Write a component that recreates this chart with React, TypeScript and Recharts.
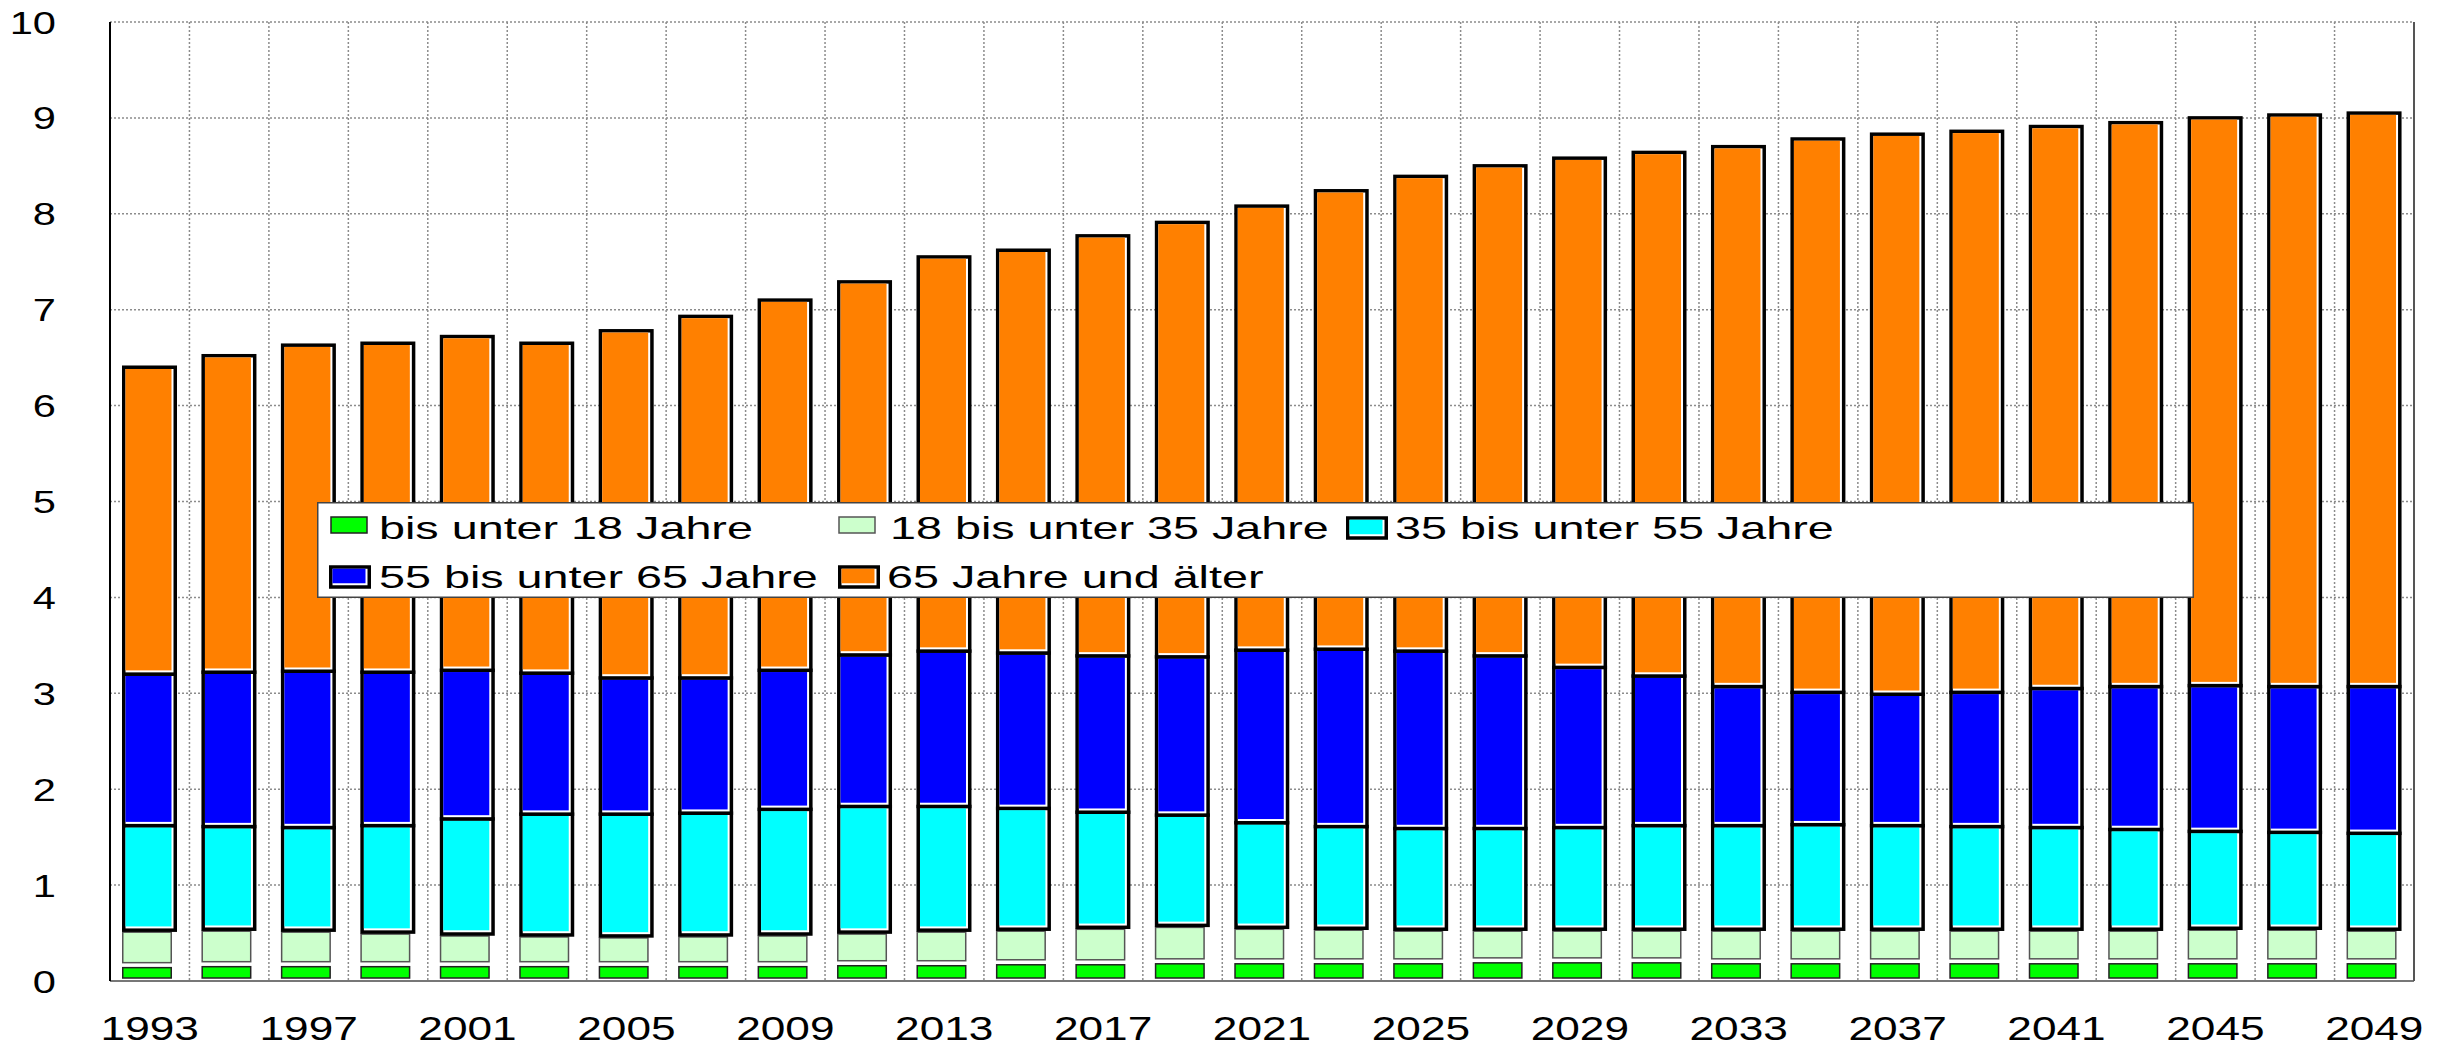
import React from "react";
import { Bar, BarChart, CartesianGrid, XAxis, YAxis } from "recharts";

const years = [
  1993, 1995, 1997, 1999, 2001, 2003, 2005, 2007, 2009, 2011, 2013, 2015, 2017, 2019, 2021,
  2023, 2025, 2027, 2029, 2031, 2033, 2035, 2037, 2039, 2041, 2043, 2045, 2047, 2049,
];

// Mio. Personen je Altersgruppe
const bisUnter18 = [
  0.16, 0.17, 0.17, 0.17, 0.17, 0.17, 0.17, 0.17, 0.17, 0.18, 0.18, 0.19, 0.19, 0.2, 0.2,
  0.2, 0.2, 0.21, 0.21, 0.21, 0.2, 0.2, 0.2, 0.2, 0.2, 0.2, 0.2, 0.2, 0.2,
];
const von18bis35 = [
  0.37, 0.37, 0.36, 0.34, 0.32, 0.31, 0.3, 0.31, 0.32, 0.33, 0.35, 0.35, 0.37, 0.38, 0.36,
  0.35, 0.34, 0.33, 0.33, 0.33, 0.34, 0.34, 0.34, 0.34, 0.34, 0.34, 0.35, 0.35, 0.34,
];
const von35bis55 = [
  1.09, 1.07, 1.07, 1.11, 1.2, 1.26, 1.27, 1.27, 1.3, 1.31, 1.29, 1.26, 1.2, 1.15, 1.09,
  1.06, 1.05, 1.05, 1.06, 1.08, 1.08, 1.09, 1.08, 1.07, 1.06, 1.04, 1.01, 1.0, 1.0,
];
const von55bis65 = [
  1.58, 1.61, 1.63, 1.6, 1.55, 1.47, 1.42, 1.41, 1.45, 1.58, 1.62, 1.62, 1.63, 1.65, 1.8,
  1.85, 1.85, 1.8, 1.67, 1.56, 1.45, 1.38, 1.37, 1.4, 1.45, 1.49, 1.52, 1.52, 1.53,
];
const ab65 = [
  3.2, 3.3, 3.4, 3.43, 3.48, 3.44, 3.62, 3.77, 3.86, 3.89, 4.11, 4.2, 4.38, 4.53, 4.63,
  4.78, 4.95, 5.11, 5.31, 5.46, 5.63, 5.77, 5.84, 5.85, 5.86, 5.88, 5.92, 5.96, 5.98,
];

const yTicks = [0, 1, 2, 3, 4, 5, 6, 7, 8, 9, 10];

const series = [
  { key: "u18", name: "bis unter 18 Jahre", color: "#00ff00", edge: "#222222", thick: false },
  { key: "a18", name: "18 bis unter 35 Jahre", color: "#ccffcc", edge: "#555555", thick: false },
  { key: "a35", name: "35 bis unter 55 Jahre", color: "#00ffff", edge: "#000000", thick: true },
  { key: "a55", name: "55 bis unter 65 Jahre", color: "#0000ff", edge: "#000000", thick: true },
  { key: "a65", name: "65 Jahre und älter", color: "#ff8000", edge: "#000000", thick: true },
];

const data = years.map((year, i) => ({
  year: String(year),
  u18: bisUnter18[i],
  a18: von18bis35[i],
  a35: von35bis55[i],
  a55: von55bis65[i],
  a65: ab65[i],
}));

const FONT = "'Liberation Sans', Arial, sans-serif";
const W = 2443;
const H = 1043;

// thin framed segment, slightly inset so white gaps show between pieces
const ThinBox = ({ x, y, width, height, fill, edge }: any) => {
  const w = width - 5;
  const h = height - 5;
  if (h <= 0 || w <= 0) return null;
  return (
    <rect x={x + 0.75} y={y + 2} width={w - 1.5} height={h} fill={fill} stroke={edge} strokeWidth={1.5} />
  );
};

// heavy black frame with a white bevel on the right and bottom edges
const ThickBox = ({ x, y, width, height, fill }: any) => {
  const sw = 3.5;
  if (height <= 0) return null;
  return (
    <g>
      <rect x={x + sw / 2} y={y} width={width - sw} height={height} fill="#ffffff" stroke="#000" strokeWidth={sw} />
      <rect
        x={x + sw}
        y={y + sw / 2}
        width={Math.max(0, width - sw * 2 - 2)}
        height={Math.max(0, height - sw - 2)}
        fill={fill}
      />
    </g>
  );
};

const XTick = ({ x, y, payload }: any) => (
  <text
    transform={`translate(${x},${y + 57}) scale(1.3,1)`}
    textAnchor="middle"
    fontSize={34}
    fontFamily={FONT}
    fill="#000"
  >
    {payload.value}
  </text>
);

const YTick = ({ x, y, payload }: any) => (
  <text
    transform={`translate(${x - 52},${y + 11.5}) scale(1.3,1)`}
    textAnchor="end"
    fontSize={32}
    fontFamily={FONT}
    fill="#000"
  >
    {payload.value}
  </text>
);

// legend slots: swatch x, text x, row
const legendSlots = [
  { col: 14, text: 62, row: 0 },
  { col: 522, text: 573, row: 0 },
  { col: 1029, text: 1078, row: 0 },
  { col: 12, text: 62, row: 1 },
  { col: 521, text: 570, row: 1 },
];

const LegendBox = () => (
  <svg
    width={1877}
    height={96}
    style={{ position: "absolute", left: 317, top: 502 }}
  >
    <rect x={0.75} y={0.75} width={1875.5} height={94.5} fill="#ffffff" stroke="#444" strokeWidth={1.5} />
    {series.map((s, i) => {
      const slot = legendSlots[i];
      const baseline = slot.row === 0 ? 37 : 86;
      return (
        <g key={s.key}>
          {s.thick ? (
            <ThickBox x={slot.col} y={baseline - 21} width={42} height={20} fill={s.color} />
          ) : (
            <rect x={slot.col} y={baseline - 22} width={36} height={16} fill={s.color} stroke={s.edge} strokeWidth={1.5} />
          )}
          <text
            transform={`translate(${slot.text},${baseline}) scale(1.46,1)`}
            fontSize={32}
            fontFamily={FONT}
            fill="#000"
          >
            {s.name}
          </text>
        </g>
      );
    })}
  </svg>
);

export default function App() {
  const cells = years.length;
  return (
    <div style={{ position: "absolute", left: 0, top: 0, width: W, height: H, background: "#fff" }}>
      <BarChart
        width={W}
        height={H}
        data={data}
        margin={{ top: 22, right: 28, bottom: 0, left: 0 }}
        barSize={55}
      >
        <CartesianGrid
          stroke="#8c8c8c"
          strokeWidth={1.5}
          strokeDasharray="2 2"
          verticalCoordinatesGenerator={({ offset }: any) =>
            Array.from({ length: cells + 1 }, (_, i) => offset.left + (i * offset.width) / cells)
          }
        />
        <XAxis
          dataKey="year"
          interval={1}
          height={62}
          tickLine={false}
          tickSize={0}
          axisLine={{ stroke: "#777", strokeWidth: 2 }}
          tick={<XTick />}
        />
        <YAxis
          type="number"
          domain={[0, 10]}
          ticks={yTicks}
          width={110}
          tickLine={false}
          tickSize={0}
          axisLine={{ stroke: "#000", strokeWidth: 2 }}
          tick={<YTick />}
        />
        <YAxis
          yAxisId="rand"
          orientation="right"
          domain={[0, 10]}
          width={1}
          tick={false}
          tickLine={false}
          axisLine={{ stroke: "#555", strokeWidth: 2 }}
        />
        {series.map((s) => (
          <Bar
            key={s.key}
            dataKey={s.key}
            name={s.name}
            stackId="bev"
            fill={s.color}
            isAnimationActive={false}
            shape={(props: any) =>
              s.thick ? <ThickBox {...props} fill={s.color} /> : <ThinBox {...props} fill={s.color} edge={s.edge} />
            }
          />
        ))}
      </BarChart>
      <LegendBox />
    </div>
  );
}
